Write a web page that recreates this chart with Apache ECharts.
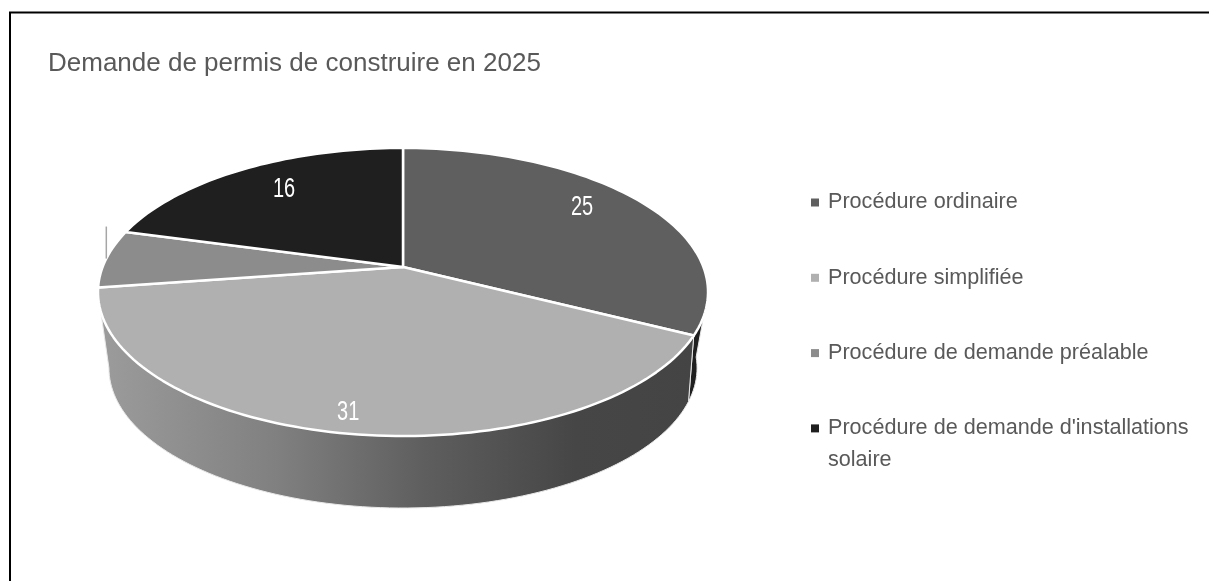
<!DOCTYPE html>
<html><head><meta charset="utf-8">
<style>html,body{margin:0;padding:0;background:#fff}#c{width:1209px;height:581px}</style>
<script src="https://cdn.jsdelivr.net/npm/echarts@6/dist/echarts.min.js"></script>
</head><body><div id="c"></div>
<script>
const titleText = "Demande de permis de construire en 2025";
const categories = ["Procédure ordinaire","Procédure simplifiée","Procédure de demande préalable","Procédure de demande d'installations solaire"];
const values = [25,31,5,16];
const sliceColors = ["#5f5f5f","#b0b0b0","#8c8c8c","#1f1f1f"];
const labelColors = ["#ffffff","#ffffff","#ffffff","#ffffff"];

const FONT = "'Liberation Sans',Arial,sans-serif";
const hub = {x:403,y:267}, K = 0.1736;
const topDisk = {a:300.4,b:139.7,cy:267};
const botDisk = {a:289.6,b:135.8,cy:343.7};
const labelRadius = [0.805,0.883,1.17,0.774];
const labelShift = [-5.1,0.75,0,2.8];
const VIS = [100,260];
const total = values.reduce((s,v)=>s+v,0);
const D2R = Math.PI/180;
function startOf(i){let s=0;for(let j=0;j<i;j++)s+=values[j];return s/total*360;}
function proj(d,t,f){f=f==null?1:f;const r=t*D2R,den=1+K*f*Math.cos(r);
  return [hub.x+d.a*f*Math.sin(r)/den, d.cy-d.b*f*Math.cos(r)/den];}
function arc(d,t0,t1){const n=Math.max(2,Math.ceil(Math.abs(t1-t0)/1.5));const p=[];
  for(let i=0;i<=n;i++)p.push(proj(d,t0+(t1-t0)*i/n));return p;}
function botT(t){return t<180?t-3.5*(180-t)/63:t;}

function wallFill(i){
  if(i===1) return {type:'linear',x:0,y:0,x2:1,y2:0,colorStops:[
    {offset:0,color:'#9c9c9c'},{offset:0.3,color:'#808080'},{offset:0.55,color:'#5e5e5e'},{offset:0.8,color:'#464646'},{offset:1,color:'#444444'}]};
  return sliceColors[3];
}
function renderWalls(params,api){
  const i=params.dataIndex;
  const a0=startOf(i),a1=a0+api.value(0)/total*360;
  const t0=Math.max(a0,VIS[0]),t1=Math.min(a1,VIS[1]);
  if(t1<=t0) return {type:'group',children:[]};
  const pts=arc(topDisk,t0,t1).concat(arc(botDisk,botT(t1),botT(t0)));
  return {type:'polygon',shape:{points:pts},style:{fill:wallFill(i),stroke:'#e8e8e8',lineWidth:1}};
}
function renderSlice(index){
  return function(params,api){
    const a0=startOf(index),a1=a0+api.value(0)/total*360,mid=(a0+a1)/2;
    const pts=[[hub.x,hub.y]].concat(arc(topDisk,a0,a1));
    const lp=proj(topDisk,mid+labelShift[index],labelRadius[index]);
    const kids=[{type:'polygon',shape:{points:pts},style:{fill:sliceColors[index],stroke:'#ffffff',lineWidth:2.5,lineJoin:'round'}}];
    if(labelRadius[index]>1){
      const rim=proj(topDisk,mid);
      kids.push({type:'line',shape:{x1:rim[0],y1:rim[1],x2:rim[0],y2:rim[1]-32},style:{stroke:'#a6a6a6',lineWidth:1.5}});
    }
    kids.push({type:'text',x:lp[0],y:lp[1]+3,scaleY:1.35,style:{text:String(api.value(0)),x:0,y:0,align:'center',verticalAlign:'middle',
      fill:labelColors[index],font:"20px "+FONT}});
    return {type:'group',children:kids};
  };
}
const series=[{name:'parois',type:'custom',coordinateSystem:'none',silent:true,z:1,renderItem:renderWalls,
  data:values.map(v=>[v])}];
categories.forEach((c,i)=>series.push({name:c,type:'custom',coordinateSystem:'none',silent:true,z:2+i,
  renderItem:renderSlice(i),itemStyle:{color:sliceColors[i]},data:[[values[i]]]}));

const chart=echarts.init(document.getElementById('c'),null,{renderer:'canvas'});
chart.setOption({
  animation:false,backgroundColor:'#ffffff',
  title:{text:titleText,left:43,top:46,textStyle:{fontFamily:FONT,fontWeight:'normal',fontSize:26,color:'#595959'}},
  legend:{orient:'vertical',left:806,top:149.5,itemWidth:8,itemHeight:8,itemGap:-20.7,selectedMode:false,
    icon:'rect',data:categories,
    formatter:n=>n.indexOf('installations')>=0?"\n"+n.replace('installations ','installations\n'):"\n"+n+"\n",
    textStyle:{fontFamily:FONT,fontSize:21.6,color:'#595959',lineHeight:32,padding:[0,0,0,4]}},
  graphic:[{type:'polyline',silent:true,z:100,shape:{points:[[10,581],[10,12.5],[1209,12.5]]},
    style:{stroke:'#000',lineWidth:2,fill:null}}],
  series
});
</script></body></html>
